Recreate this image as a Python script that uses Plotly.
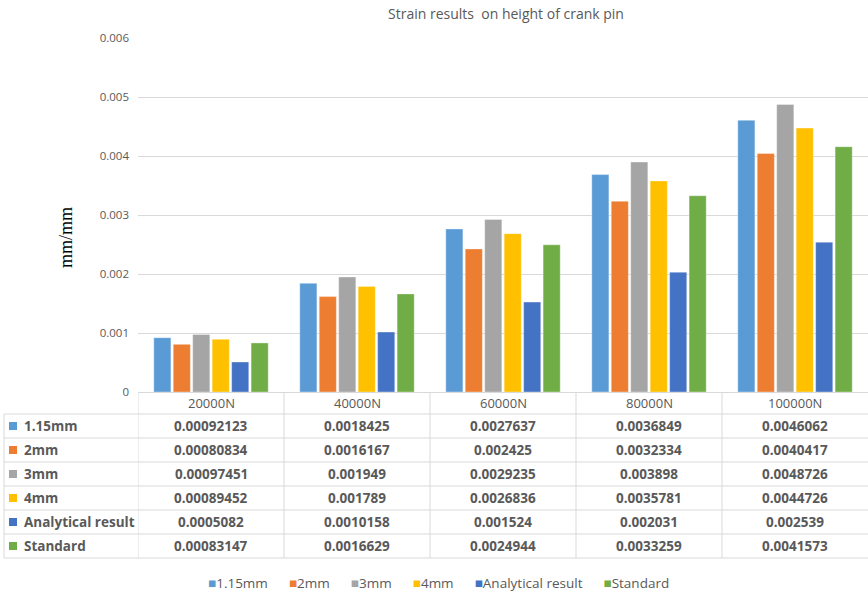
import plotly.graph_objects as go

# ---- data ----
categories = ["20000N", "40000N", "60000N", "80000N", "100000N"]
series_names = ["1.15mm", "2mm", "3mm", "4mm", "Analytical result", "Standard"]
strain_115mm = [0.00092123, 0.0018425, 0.0027637, 0.0036849, 0.0046062]
strain_2mm = [0.00080834, 0.0016167, 0.002425, 0.0032334, 0.0040417]
strain_3mm = [0.00097451, 0.001949, 0.0029235, 0.003898, 0.0048726]
strain_4mm = [0.00089452, 0.001789, 0.0026836, 0.0035781, 0.0044726]
strain_analytical = [0.0005082, 0.0010158, 0.001524, 0.002031, 0.002539]
strain_standard = [0.00083147, 0.0016629, 0.0024944, 0.0033259, 0.0041573]
y_tick_values = [0, 0.001, 0.002, 0.003, 0.004, 0.005, 0.006]
y_tick_labels = ["0", "0.001", "0.002", "0.003", "0.004", "0.005", "0.006"]

series_values = [strain_115mm, strain_2mm, strain_3mm, strain_4mm,
                 strain_analytical, strain_standard]
colors = ["#5B9BD5", "#ED7D31", "#A5A5A5", "#FFC000", "#4472C4", "#70AD47"]

W, H = 868, 593
L, R, T, B = 138, 0, 38, 201
PLOT_W = W - L - R
PLOT_H = H - T - B
AXIS_Y = H - B          # pixel row of the x axis
TEXT = "#595959"
GRID = "#d9d9d9"
FONT = "Open Sans"


def px(x):
    """pixel column -> paper x"""
    return (x - L) / PLOT_W


def py(y):
    """pixel row -> paper y"""
    return (AXIS_Y - y) / PLOT_H


fig = go.Figure()
for name, vals, col in zip(series_names, series_values, colors):
    fig.add_trace(go.Bar(
        x=categories, y=vals, name=name, showlegend=False,
        marker=dict(color=col, line=dict(color="rgba(255,255,255,0.6)", width=0.6)),
    ))

# ---- data table below the plot ----
shapes = []
annotations = []
row_top = 414
row_h = 24
n_rows = len(series_names)
table_left = 4
table_bottom = row_top + n_rows * row_h

# horizontal rules
for i in range(n_rows + 1):
    y = row_top + i * row_h
    shapes.append(dict(type="line", xref="paper", yref="paper",
                       x0=px(table_left), x1=1, y0=py(y), y1=py(y),
                       line=dict(color=GRID, width=1)))
# vertical rules: label column edge and category boundaries
shapes.append(dict(type="line", xref="paper", yref="paper",
                   x0=px(table_left), x1=px(table_left), y0=py(row_top), y1=py(table_bottom),
                   line=dict(color=GRID, width=1)))
for k in range(len(categories)):
    shapes.append(dict(type="line", xref="x", yref="paper",
                       x0=k - 0.5, x1=k - 0.5, y0=0, y1=py(table_bottom),
                       line=dict(color=GRID, width=1)))

# header row with category names
for cat in categories:
    annotations.append(dict(x=cat, y=py(403), xref="x", yref="paper",
                            xanchor="center", yanchor="middle",
                            text=cat, showarrow=False,
                            font=dict(family=FONT, size=13, color=TEXT)))

# data rows
for i, (name, vals, col) in enumerate(zip(series_names, series_values, colors)):
    yc = row_top + i * row_h + row_h / 2
    shapes.append(dict(type="rect", xref="paper", yref="paper",
                       x0=px(9), x1=px(17), y0=py(yc - 4), y1=py(yc + 4),
                       fillcolor=col, line=dict(width=0)))
    annotations.append(dict(x=px(22), y=py(yc), xref="paper", yref="paper",
                            xanchor="left", yanchor="middle", text=name, showarrow=False,
                            font=dict(family=FONT, size=13.5, color=TEXT, weight="bold")))
    for cat, v in zip(categories, vals):
        annotations.append(dict(x=cat, y=py(yc), xref="x", yref="paper",
                                xanchor="center", yanchor="middle",
                                text=str(v), showarrow=False,
                                font=dict(family=FONT, size=13.5, color=TEXT, weight="bold")))

# series key along the bottom
key_items = [f'<span style="color:{col}">■</span>{name}'
             for name, col in zip(series_names, colors)]
key_gap = "\u00a0" * 6
annotations.append(dict(x=px(438), y=py(583), xref="paper", yref="paper",
                        xanchor="center", yanchor="middle", showarrow=False,
                        text=key_gap.join(key_items),
                        font=dict(family=FONT, size=13.5, color=TEXT)))

# y axis title
annotations.append(dict(x=px(66), y=py(238), xref="paper", yref="paper",
                        xanchor="center", yanchor="middle",
                        text="mm/mm", textangle=-90, showarrow=False,
                        font=dict(family="Liberation Serif", size=18, color="#000000")))

fig.update_layout(
    width=W, height=H,
    margin=dict(l=L, r=R, t=T, b=B, pad=0),
    paper_bgcolor="white", plot_bgcolor="white",
    title=dict(text="Strain results  on height of crank pin",
               x=506 / W, xref="container", xanchor="center",
               y=1 - 14 / H, yref="container", yanchor="middle",
               font=dict(family=FONT, size=14, color=TEXT)),
    barmode="group", bargap=0.2, bargroupgap=0.12,
    showlegend=False,
    xaxis=dict(type="category", range=[-0.5, len(categories) - 0.5],
               showticklabels=False, showgrid=False, zeroline=False,
               showline=True, linecolor=GRID, linewidth=1, ticks=""),
    yaxis=dict(range=[0, 0.006], tickvals=y_tick_values, ticktext=y_tick_labels,
               showgrid=True, gridcolor=GRID, gridwidth=1, zeroline=False,
               showline=False, ticks="", ticklabelstandoff=8,
               tickfont=dict(family=FONT, size=11.5, color=TEXT)),
    shapes=shapes,
    annotations=annotations,
)

fig.write_html("out.html")
